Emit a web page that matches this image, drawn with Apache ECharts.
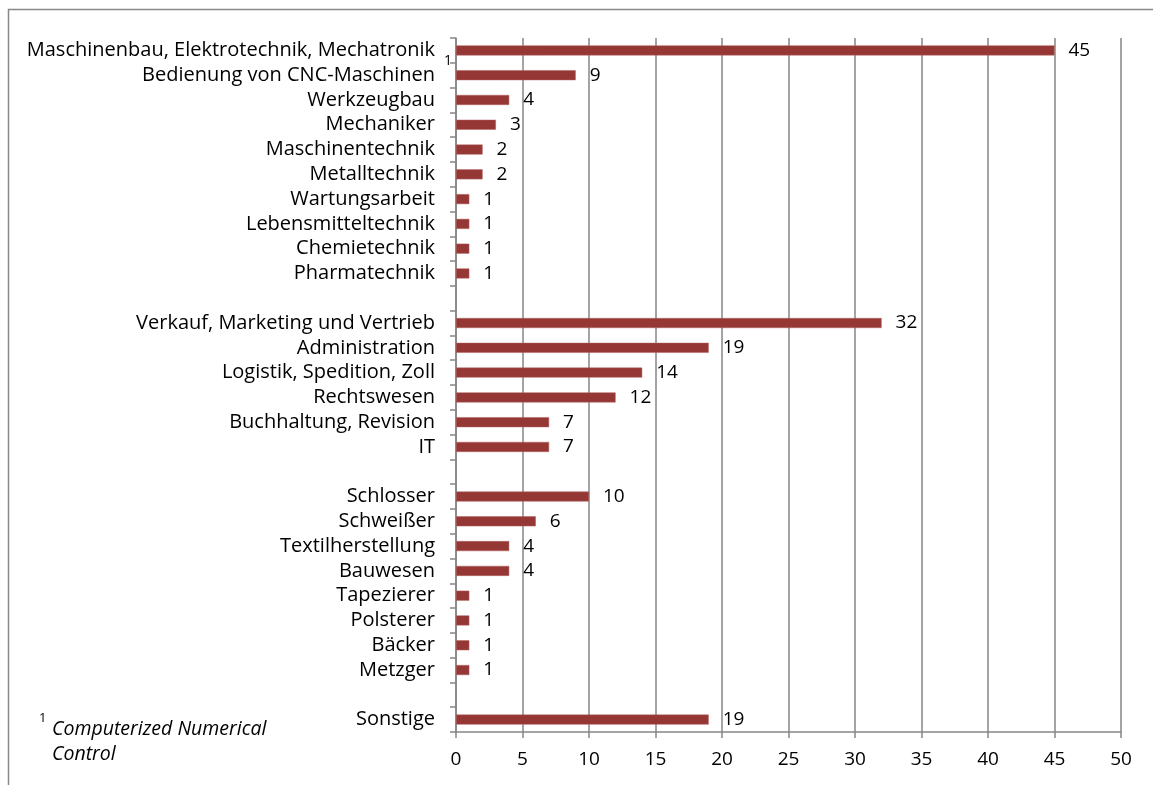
<!DOCTYPE html>
<html><head><meta charset="utf-8">
<script src="https://cdn.jsdelivr.net/npm/echarts@6/dist/echarts.min.js"></script>
<style>html,body{margin:0;padding:0;background:#fff}#c{width:1153px;height:785px}</style>
</head><body><div id="c"></div>
<script>
const categories = [
  "Maschinenbau, Elektrotechnik, Mechatronik","Bedienung von CNC-Maschinen","Werkzeugbau","Mechaniker",
  "Maschinentechnik","Metalltechnik","Wartungsarbeit","Lebensmitteltechnik","Chemietechnik","Pharmatechnik",
  "",
  "Verkauf, Marketing und Vertrieb","Administration","Logistik, Spedition, Zoll","Rechtswesen","Buchhaltung, Revision","IT",
  " ",
  "Schlosser","Schweißer","Textilherstellung","Bauwesen","Tapezierer","Polsterer","Bäcker","Metzger",
  "  ",
  "Sonstige"
];
const values = [45,9,4,3,2,2,1,1,1,1, null, 32,19,14,12,7,7, null, 10,6,4,4,1,1,1,1, null, 19];
const footnoteCategory = "Bedienung von CNC-Maschinen";
const footnoteMark = "1";
const footnoteText = ["Computerized Numerical", "Control"];
const xTicks = {min:0, max:50, interval:5};

const FONT = "'Open Sans', sans-serif";
const chart = echarts.init(document.getElementById('c'));
const baseGraphic = [
  {type:'rect', shape:{x:8.5, y:9.5, width:1200, height:900}, style:{fill:'none', stroke:'#888', lineWidth:1.5}, silent:true},
  {type:'text', left:39, top:712, style:{text:footnoteMark, fontSize:13, fontFamily:FONT, fill:'#000'}},
  {type:'text', left:52, top:717, style:{text:footnoteText.join('\n'), fontStyle:'italic', fontSize:19.5, fontFamily:FONT, fill:'#000', lineHeight:25}}
];
chart.setOption({
  animation:false,
  grid:{left:456, right:32, top:38, bottom:53, containLabel:false},
  xAxis:{type:'value', min:xTicks.min, max:xTicks.max, interval:xTicks.interval,
    axisLine:{show:true, lineStyle:{color:'#868686', width:1.5}},
    axisTick:{show:true, length:6, lineStyle:{color:'#868686', width:1.5}},
    splitLine:{show:true, lineStyle:{color:'#868686', width:1.5}},
    axisLabel:{color:'#000', fontFamily:FONT, fontSize:19, margin:18}},
  yAxis:{type:'category', data:categories, inverse:true,
    axisLine:{show:true, lineStyle:{color:'#868686', width:1.5}},
    axisTick:{show:true, length:6, interval:0, lineStyle:{color:'#868686', width:1.5}},
    axisLabel:{color:'#000', fontFamily:FONT, fontSize:20, margin:21, interval:0}},
  series:[{type:'bar', data:values, barWidth:10,
    itemStyle:{color:'#953735', borderColor:'#b06361', borderWidth:0.5},
    label:{show:true, position:'right', distance:14, color:'#000', fontFamily:FONT, fontSize:19}}],
  graphic:baseGraphic
});
const yc = chart.convertToPixel({yAxisIndex:0}, footnoteCategory);
chart.setOption({graphic:baseGraphic.concat([
  {type:'text', x:444, y:yc-21, style:{text:footnoteMark, fontSize:14, fontFamily:FONT, fill:'#000'}}
])}, {replaceMerge:['graphic']});
</script></body></html>
